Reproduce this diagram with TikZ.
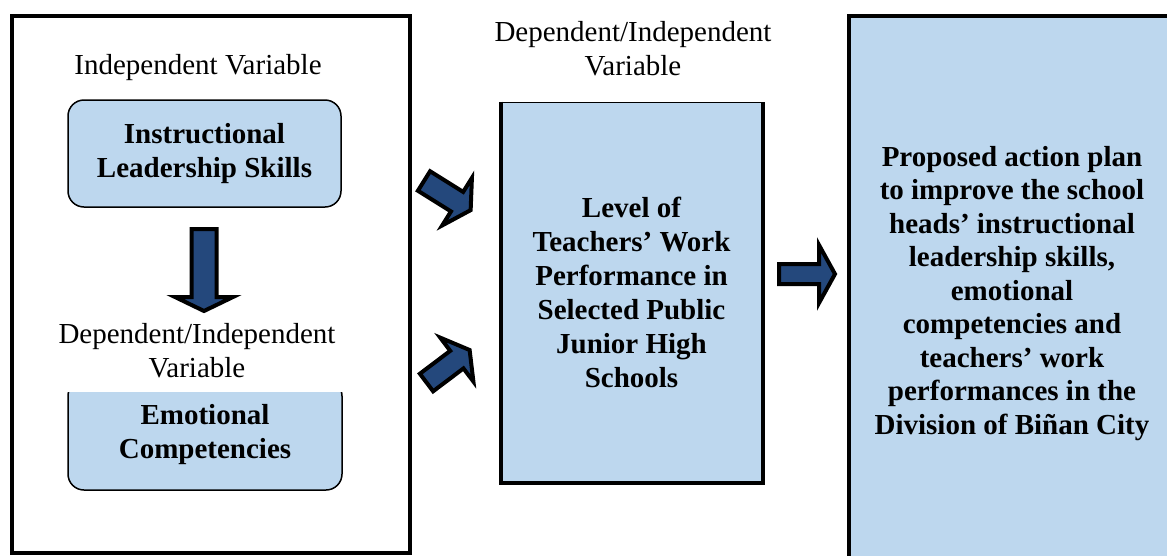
\documentclass[tikz,border=0pt]{standalone}
\usepackage{fontspec}
\setmainfont{Liberation Serif}
\definecolor{lblue}{RGB}{189,215,238}
\definecolor{dblue}{RGB}{36,72,124}
\tikzset{
  frame/.style={draw=black, line width=4pt, inner sep=0pt},
  inbox/.style={draw=black, line width=1.5pt, fill=lblue, rounded corners=16pt, align=center, inner sep=0pt,
    font=\bfseries\fontsize{29}{34}\selectfont},
  bigbox/.style={fill=lblue, align=center, inner sep=0pt},
  lbl/.style={align=center, font=\fontsize{29}{34}\selectfont, inner sep=0pt},
  barr/.style={draw=black, line width=4pt, fill=dblue, line join=miter},
}
\newcommand\blockarrow[7]{%
  \begin{scope}[shift={(#1,#2)},rotate=#3]
    \draw[barr] (0,-#5/2) -- (#4-#7,-#5/2) -- (#4-#7,-#6/2) -- (#4,0) -- (#4-#7,#6/2) -- (#4-#7,#5/2) -- (0,#5/2) -- cycle;
  \end{scope}}
\begin{document}
\begin{tikzpicture}[x=1pt,y=-1pt]
  \clip (0,0) rectangle (1167,555);
  \fill[white] (0,0) rectangle (1167,555);
  % left frame
  \node[frame, minimum width=398pt, minimum height=537pt] (outer) at (211,284.5) {};
  \node[lbl] (ivlab) at (198,68) {Independent Variable};
  \node[inbox, minimum width=273pt, minimum height=107pt] (ils) at (204.5,153.5) {Instructional\\Leadership Skills};
  \node[inbox, minimum width=274pt, minimum height=110pt] (emo) at (205,435) {Emotional\\Competencies};
  \node[lbl, fill=white, minimum width=300pt, inner ysep=14pt] (divlab) at (197,351) {Dependent/Independent\\Variable};
  % middle
  \node[lbl] (mlab) at (633,49) {Dependent/Independent\\Variable};
  \node[bigbox, draw=black, line width=1pt, minimum width=261pt, minimum height=380pt,
        font=\bfseries\fontsize{29}{34}\selectfont] (lev) at (631.5,292)
    {Level of\\Teachers’ Work\\Performance in\\Selected Public\\Junior High\\Schools};
  \draw[line width=4pt, line join=miter] (lev.north west) -- (lev.south west) -- (lev.south east) -- (lev.north east);
  % right
  \node[bigbox, draw=black, line width=4pt, minimum width=326pt, minimum height=555pt,
        font=\bfseries\fontsize{29}{33.5}\selectfont] (plan) at (1012,293.5)
    {Proposed action plan\\to improve the school\\heads’ instructional\\leadership skills,\\emotional\\competencies and\\teachers’ work\\performances in the\\Division of Biñan City};
  % block arrows
  \blockarrow{204}{229}{-90}{82}{25}{58}{14}
  \blockarrow{424}{181}{-32}{55}{23}{56}{16}
  \blockarrow{426.5}{382.5}{37}{54}{22}{55}{16}
  \blockarrow{779}{274}{0}{56}{20}{58}{16}
\end{tikzpicture}
\end{document}
